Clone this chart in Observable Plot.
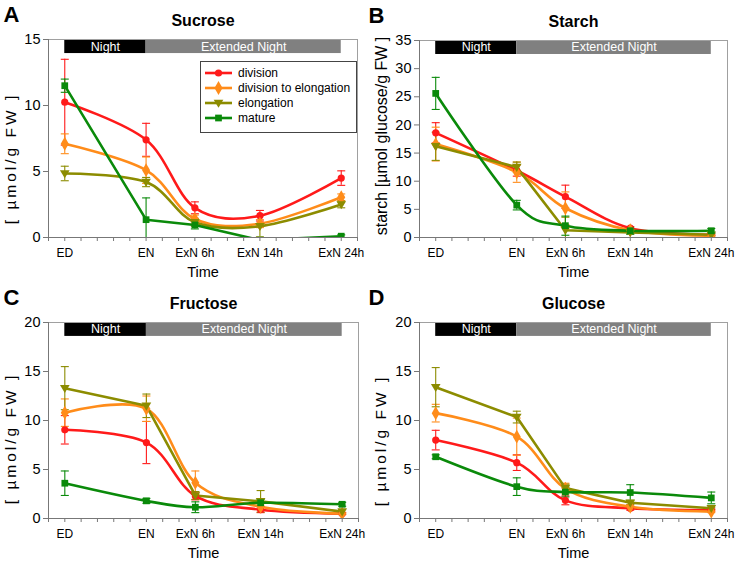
<!DOCTYPE html>
<html>
<head>
<meta charset="utf-8">
<script src="https://cdn.jsdelivr.net/npm/d3@7"></script>
<script src="https://cdn.jsdelivr.net/npm/@observablehq/plot@0.6"></script>
<style>
  html, body { margin: 0; padding: 0; background: #fff; }
  #root { position: relative; width: 735px; height: 564px; background: #fff; overflow: hidden;
          font-family: "Liberation Sans", Arial, sans-serif; }
  .panel { position: absolute; }
  .legend { position: absolute; }
</style>
</head>
<body>
<div id="root"></div>
<script>
// ---------- data ----------
const timeLabels = ["ED", "EN", "ExN 6h", "ExN 14h", "ExN 24h"];
const timeHours = [0, 10, 16, 24, 34];
const seriesNames = ["division", "division to elongation", "elongation", "mature"];
const phaseLabels = ["Night", "Extended Night"];
const phaseStart = [0, 10];
const phaseEnd = [10, 34];

const panelLetters = ["A", "B", "C", "D"];
const panelTitles = ["Sucrose", "Starch", "Fructose", "Glucose"];
const yLabels = ["[ µmol/g FW ]", "starch [µmol glucose/g FW ]", "[ µmol/g FW ]", "[ µmol/g FW ]"];
const yMax = [15, 35, 20, 20];

// rows: division, division to elongation, elongation, mature
const sucroseMean = [
  [10.25, 7.4, 2.25, 1.65, 4.5],
  [7.1, 5.1, 1.4, 1.05, 3.05],
  [4.85, 4.2, 1.15, 0.85, 2.5],
  [11.5, 1.35, 0.95, -0.2, 0.1]
];
const sucroseErr = [
  [3.25, 1.25, 0.45, 0.4, 0.55],
  [0.75, 1.0, 0.3, 0.3, 0.25],
  [0.55, 0.35, 0.3, 0.8, 0.25],
  [0.5, 1.65, 0.3, 0, 0.1]
];
const starchMean = [
  [18.6, 11.9, 7.25, 1.65, 0.5],
  [16.6, 11.6, 5.2, 1.3, 0.3],
  [16.2, 12.5, 1.3, 0.9, 0.5],
  [25.6, 5.75, 2.1, 1.2, 1.2]
];
const starchErr = [
  [1.8, 1.0, 2.05, 0.3, 0.1],
  [3.0, 1.8, 2.9, 0.3, 0.1],
  [2.5, 0.9, 2.3, 0.3, 0.2],
  [2.85, 0.85, 1.7, 0.6, 0.4]
];
const fructoseMean = [
  [9.05, 7.75, 2.3, 0.9, 0.5],
  [10.8, 11.2, 3.65, 1.2, 0.5],
  [13.3, 11.5, 2.35, 1.75, 0.7],
  [3.6, 1.8, 1.15, 1.6, 1.45]
];
const fructoseErr = [
  [1.45, 2.15, 0.4, 0.3, 0.1],
  [1.4, 1.3, 1.2, 0.3, 0.1],
  [2.2, 1.2, 0.4, 1.1, 0.2],
  [1.25, 0.25, 0.55, 0.35, 0.2]
];
const glucoseMean = [
  [8.0, 5.7, 1.85, 1.05, 0.85],
  [10.75, 8.35, 3.05, 1.2, 0.7],
  [13.4, 10.35, 3.1, 1.6, 1.05],
  [6.3, 3.25, 2.7, 2.65, 2.1]
];
const glucoseErr = [
  [1.0, 0.8, 0.45, 0.2, 0.1],
  [0.9, 1.9, 0.55, 0.2, 0.1],
  [2.0, 0.6, 0.4, 0.2, 0.1],
  [0.2, 0.9, 0.5, 0.8, 0.6]
];

// ---------- styles ----------
const FONT = '"Liberation Sans", Arial, sans-serif';
const colors = ["#ff1a1a", "#ff8c1a", "#8c8c00", "#0a8a0a"];
const triDown = {
  draw(ctx, size) {
    const s = Math.sqrt(size);
    ctx.moveTo(-s * 0.62, -s * 0.42);
    ctx.lineTo(s * 0.62, -s * 0.42);
    ctx.lineTo(0, s * 0.62);
    ctx.closePath();
  }
};
const capSym = {
  draw(ctx) { ctx.moveTo(-4, 0); ctx.lineTo(4, 0); }
};
const symbols = ["circle", "diamond", triDown, "square"];
const symbolR = [3.6, 4.2, 4.4, 3.8];
// series drawn with straight segments (others smoothed)
const linearSeries = [["mature"], ["elongation"], ["elongation"], ["elongation"]];

const meansAll = [sucroseMean, starchMean, fructoseMean, glucoseMean];
const errsAll = [sucroseErr, starchErr, fructoseErr, glucoseErr];

const boxes = [
  {left: 0,   top: 0,   width: 367, height: 282, ml: 48, mr: 10, mt: 39, mb: 45},
  {left: 365, top: 0,   width: 370, height: 282, ml: 54, mr: 8,  mt: 40, mb: 45},
  {left: 0,   top: 280, width: 367, height: 284, ml: 48, mr: 9,  mt: 42, mb: 46},
  {left: 365, top: 280, width: 370, height: 284, ml: 54, mr: 8,  mt: 42, mb: 46}
];
const yLabelStyle = [
  {fontSize: 15.5, spacing: "3px", dx: -37, dy: 20},
  {fontSize: 16, spacing: "0px", dx: -38, dy: -3},
  {fontSize: 15.5, spacing: "3px", dx: -37, dy: 18},
  {fontSize: 15.5, spacing: "3px", dx: -38, dy: 20}
];

const root = document.getElementById("root");

function buildPanel(p) {
  const b = boxes[p];
  const ym = yMax[p];
  const rows = [];
  seriesNames.forEach((s, si) => {
    timeHours.forEach((h, ti) => {
      const v = meansAll[p][si][ti];
      const e = errsAll[p][si][ti];
      rows.push({series: s, si, x: h, y: v, lo: v - e, hi: v + e, e});
    });
  });
  const phases = phaseLabels.map((l, i) => ({label: l, x1: phaseStart[i], x2: phaseEnd[i],
    y1: ym * 0.929, y2: ym, xm: (phaseStart[i] + phaseEnd[i]) / 2, ym: ym * 0.9645}));

  const marks = [];
  // phase bar
  marks.push(Plot.rect(phases, {x1: "x1", x2: "x2", y1: "y1", y2: "y2",
    fill: (d, i) => i === 0 ? "#000" : "#808080"}));
  marks.push(Plot.text(phases, {x: "xm", y: "ym", text: "label", fill: "#fff", fontSize: 12.5}));
  // frame and axes
  marks.push(Plot.frame({stroke: "#a0a0a0"}));
  marks.push(Plot.axisX({ticks: d3.range(-2, 37, 2), tickSize: 4, tickFormat: () => "", stroke: "#777"}));
  marks.push(Plot.axisX({ticks: timeHours, tickSize: 0, tickPadding: 11, fontSize: 12,
    tickFormat: (d) => timeLabels[timeHours.indexOf(d)], label: null}));
  marks.push(Plot.axisY({ticks: d3.range(0, ym + 0.01, 5), tickSize: 5, tickPadding: 3, fontSize: 14.5,
    stroke: "#777", label: null}));
  marks.push(Plot.ruleX([-2], {stroke: "#777"}));
  marks.push(Plot.ruleY([0], {stroke: "#777"}));
  // error bars
  seriesNames.forEach((s, si) => {
    const d = rows.filter(r => r.si === si && r.e > 0);
    marks.push(Plot.ruleX(d, {x: "x", y1: "lo", y2: "hi", stroke: colors[si], strokeWidth: 1.1, clip: true}));
    marks.push(Plot.dot(d, {x: "x", y: "hi", symbol: capSym, stroke: colors[si], fill: "none", strokeWidth: 1.1, clip: true}));
    marks.push(Plot.dot(d, {x: "x", y: "lo", symbol: capSym, stroke: colors[si], fill: "none", strokeWidth: 1.1, clip: true}));
  });
  // lines and markers
  seriesNames.forEach((s, si) => {
    const d = rows.filter(r => r.si === si);
    const curve = linearSeries[p].includes(s) ? "linear" : "cardinal";
    marks.push(Plot.line(d, {x: "x", y: "y", stroke: colors[si], strokeWidth: 2.6, curve, clip: true}));
  });
  seriesNames.forEach((s, si) => {
    const d = rows.filter(r => r.si === si);
    marks.push(Plot.dot(d, {x: "x", y: "y", symbol: symbols[si], r: symbolR[si], fill: colors[si], stroke: "none", clip: true}));
  });
  // text labels
  marks.push(Plot.text([panelTitles[p]], {frameAnchor: "top", lineAnchor: "middle", dy: -19,
    fontWeight: "bold", fontSize: 16, text: d => d}));
  marks.push(Plot.text([panelLetters[p]], {frameAnchor: "top-left", textAnchor: "start", lineAnchor: "middle",
    dx: -b.ml + 3, dy: -25, fontWeight: "bold", fontSize: 22, text: d => d}));
  marks.push(Plot.text(["Time"], {frameAnchor: "bottom", lineAnchor: "middle", dy: 35, fontSize: 14.5, text: d => d}));
  const ls = yLabelStyle[p];
  marks.push(Plot.text([yLabels[p]], {frameAnchor: "left", textAnchor: "middle", lineAnchor: "middle",
    dx: ls.dx, dy: ls.dy, rotate: -90, fontSize: ls.fontSize, text: d => d}));

  const svg = Plot.plot({
    width: b.width, height: b.height,
    marginLeft: b.ml, marginRight: b.mr, marginTop: b.mt, marginBottom: b.mb,
    x: {domain: [-2, 36]},
    y: {domain: [0, ym]},
    style: {fontFamily: FONT, color: "#000", background: "transparent", overflow: "visible"},
    marks
  });
  // widen letter spacing of the y-axis label (as in the reference)
  d3.select(svg).selectAll("text").filter(function () { return this.textContent === yLabels[p]; })
    .style("letter-spacing", ls.spacing);
  svg.classList.add("panel");
  svg.style.left = b.left + "px";
  svg.style.top = b.top + "px";
  root.appendChild(svg);
}

[0, 1, 2, 3].forEach(buildPanel);

// legend (panel A)
const lg = d3.select(root).append("svg").attr("class", "legend")
  .style("left", "200px").style("top", "61px").attr("width", 157).attr("height", 72);
lg.append("rect").attr("x", 0.5).attr("y", 0.5).attr("width", 156).attr("height", 71)
  .attr("fill", "#fff").attr("stroke", "#444");
seriesNames.forEach((s, i) => {
  const y = 12 + i * 15;
  lg.append("line").attr("x1", 5).attr("x2", 32).attr("y1", y).attr("y2", y)
    .attr("stroke", colors[i]).attr("stroke-width", 2.6);
  const sym = typeof symbols[i] === "string"
    ? d3.symbol(i === 0 ? d3.symbolCircle : i === 1 ? d3.symbolDiamond : d3.symbolSquare, Math.PI * symbolR[i] ** 2)
    : d3.symbol(symbols[i], Math.PI * symbolR[i] ** 2);
  lg.append("path").attr("d", sym()).attr("transform", `translate(18.5,${y})`).attr("fill", colors[i]);
  lg.append("text").attr("x", 38).attr("y", y).attr("dy", "0.35em").attr("font-size", 12)
    .attr("font-family", FONT).text(s);
});
</script>
</body>
</html>
